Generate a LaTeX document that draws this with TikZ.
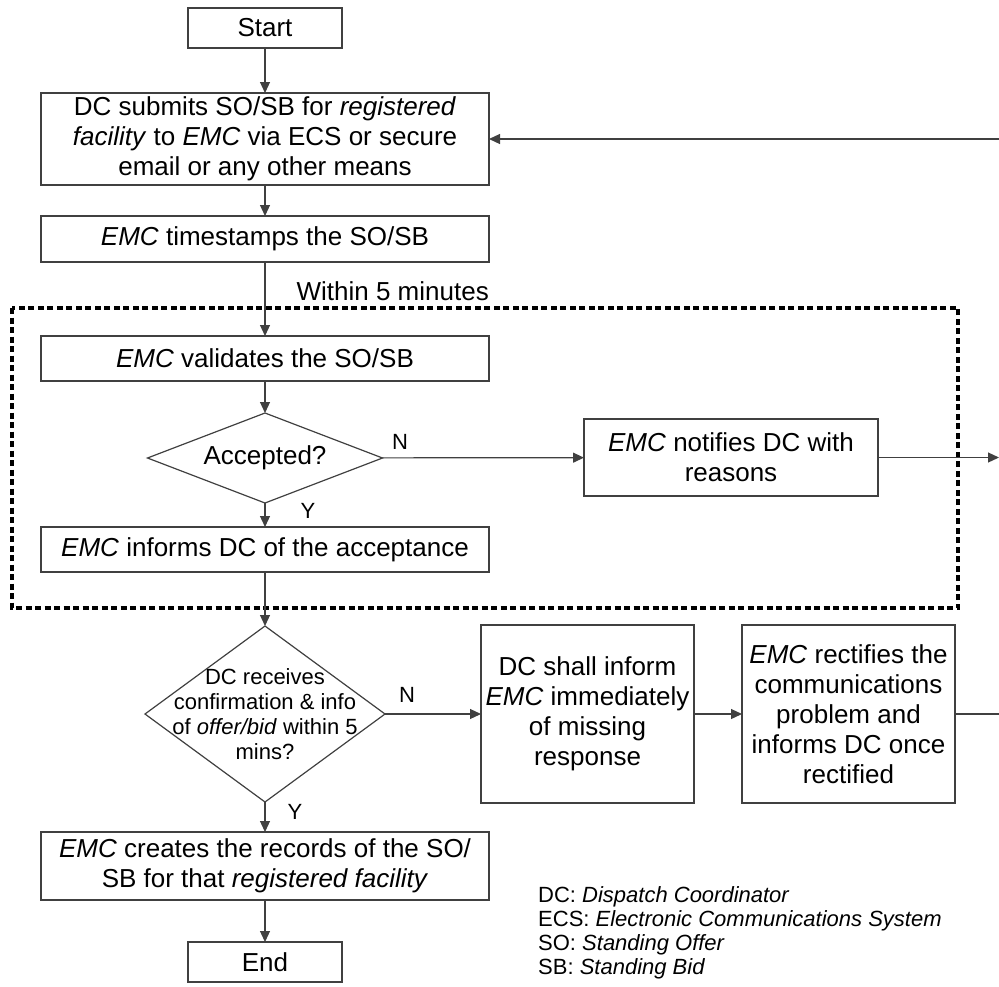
\documentclass[tikz,border=0pt]{standalone}
\usepackage{fontspec}
\setmainfont{Liberation Sans}
\usetikzlibrary{shapes.geometric,arrows.meta}
\newcommand\boxfont{\fontsize{26}{30}\selectfont}
\newcommand\keyfont{\fontsize{22}{25}\selectfont}

\begin{document}
\begin{tikzpicture}[x=1pt,y=-1pt,
	>={Triangle[length=11pt,width=10pt]},
	stepbox/.style={draw=black!75, line width=1.2pt, font=\boxfont, align=center, inner sep=0pt, outer sep=0pt},
	decide/.style={diamond, draw=black!75, line width=1.2pt, inner sep=0pt, outer sep=0pt},
	flow/.style={->, draw=black!75, line width=1.2pt},
	keytext/.style={font=\keyfont, align=center},
	window/.style={line width=4pt, dash pattern=on 6pt off 3.5pt}]
\useasboundingbox (0,0) rectangle (999,986);
\draw[window] (12,308) rectangle (958,608);

\node[stepbox, minimum width=154pt, minimum height=40pt] (start) at (265,28) {Start};
\node[stepbox, minimum width=448pt, minimum height=92pt] (submit) at (265,139) {DC submits SO/SB for \textit{registered}\\\textit{facility} to \textit{EMC} via ECS or secure\\email or any other means};
\node[stepbox, minimum width=448pt, minimum height=46pt] (stamp) at (265,239) {\textit{EMC} timestamps the SO/SB};
\node[font=\boxfont, anchor=base east, inner sep=0pt] (within) at (489,300) {Within 5 minutes};
\node[stepbox, minimum width=448pt, minimum height=45pt] (validate) at (265,358.5) {\textit{EMC} validates the SO/SB};
\node[decide, minimum width=235pt, minimum height=90pt, label={[font=\boxfont]center:Accepted?}] (acc) at (265,458) {};
\node[stepbox, minimum width=294pt, minimum height=77pt] (notify) at (731,457.5) {\textit{EMC} notifies DC with\\reasons};
\node[stepbox, minimum width=448pt, minimum height=45pt] (inform) at (265,549.5) {\textit{EMC} informs DC of the acceptance};
\node[decide, minimum width=240pt, minimum height=176pt, label={[keytext]center:{DC receives\\confirmation \& info\\of \textit{offer/bid} within 5\\mins?}}] (recv) at (265,714) {};
\node[stepbox, minimum width=213pt, minimum height=178pt] (shall) at (587.5,714) {DC shall inform\\\textit{EMC} immediately\\of missing\\response};
\node[stepbox, minimum width=213pt, minimum height=178pt] (fix) at (848.5,714) {\textit{EMC} rectifies the\\communications\\problem and\\informs DC once\\rectified};
\node[stepbox, minimum width=448pt, minimum height=68pt] (create) at (265,866) {\textit{EMC} creates the records of the SO/\\SB for that \textit{registered facility}};
\node[stepbox, minimum width=154pt, minimum height=40pt] (end) at (265,962) {End};

\node[keytext] (accN) at (400,442) {N};
\node[keytext] (accY) at (308,511) {Y};
\node[keytext] (recvN) at (407,695) {N};
\node[keytext] (recvY) at (295,812) {Y};

\coordinate (out1) at (999,457.5);
\coordinate (out2) at (999,714);
\coordinate (back) at (999,139);

\draw[flow] (start) -- (submit);
\draw[flow] (submit) -- (stamp);
\draw[flow] (stamp) -- (validate);
\draw[flow] (validate) -- (acc);
\draw[flow] (acc) -- (inform);
\draw[flow] (acc) -- (notify);
\draw[flow] (notify) -- (out1);
\draw[flow] (inform) -- (recv);
\draw[flow] (recv) -- (shall);
\draw[flow] (shall) -- (fix);
\draw[draw=black!75, line width=1.2pt] (fix) -- (out2);
\draw[flow] (recv) -- (create);
\draw[flow] (create) -- (end);
\draw[flow] (back) -- (submit);

\foreach \ab/\full [count=\i] in {DC/Dispatch Coordinator, ECS/Electronic Communications System, SO/Standing Offer, SB/Standing Bid}
	\node[keytext, anchor=base west, inner sep=0pt] (key\i) at (538,{878+24*\i}) {\ab: \textit{\full}};
\end{tikzpicture}
\end{document}
